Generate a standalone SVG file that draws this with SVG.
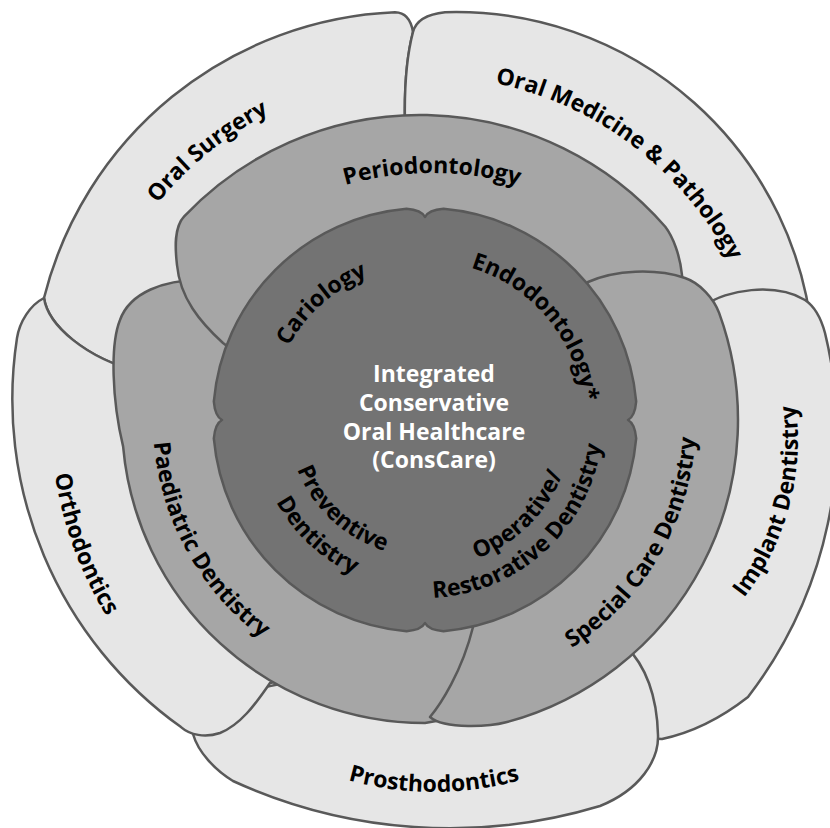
<svg xmlns="http://www.w3.org/2000/svg" width="830" height="828" viewBox="0 0 830 828">
<style>
.outer{fill:#e6e6e6;stroke:#595959;stroke-width:2.5;stroke-linejoin:round}
.mid{fill:#a6a6a6;stroke:#595959;stroke-width:2.5;stroke-linejoin:round}
.inner{fill:#737373;stroke:#595959;stroke-width:2.5;stroke-linejoin:round}
.lbl{font-family:"Open Sans","Liberation Sans",sans-serif;font-weight:700;font-size:23px;fill:#000;text-anchor:middle}
.ctr{font-family:"Open Sans","Liberation Sans",sans-serif;font-weight:700;font-size:23px;fill:#fff;text-anchor:middle}
</style>
<defs>
<path id="p-os" d="M 81.05 414 A 344 344 0 0 1 490.6 82.3"/>
<path id="p-om" d="M 348.2 84.7 A 344 344 0 0 1 768.6 402.6"/>
<path id="p-im" d="M 649 673.8 A 258 258 0 0 0 751.3 292"/>
<path id="p-pr" d="M 228.3 717.1 A 320 320 0 0 0 639.7 717.1"/>
<path id="p-or" d="M 101.1 233 A 374 374 0 0 0 297.1 771.4"/>
<path id="p-pa" d="M 191.8 279.9 A 272 272 0 0 0 420.25 692"/>
<path id="p-sc" d="M 422.6 691 A 271 271 0 0 0 660.9 286.6"/>
<path id="p-pe" d="M 189.2 286.2 A 317 317 0 0 1 674.8 286.2"/>
<path id="p-ca" d="M 270.07 424.6 A 155 155 0 0 1 447.4 266.6"/>
<path id="p-en" d="M 397.4 263.4 A 159 159 0 0 1 574.4 474.4"/>
<path id="p-pv1" d="M 291.5 389.2 A 137 137 0 0 0 465.1 551"/>
<path id="p-pv2" d="M 259.4 381.8 A 170 170 0 0 0 474.7 582.6"/>
<path id="p-op1" d="M 385.5 562.6 A 148 148 0 0 0 568.3 382.9"/>
<path id="p-op2" d="M 370.9 589.6 A 178 178 0 0 0 598.9 382.1"/>
</defs>
<rect width="830" height="828" fill="#ffffff"/>

<g id="oral-surgery">
<path class="outer" d="M 44 298 A 378 378 0 0 1 395 12.3 C 405 12.5 411 20 413 32 C 407 55 404 85 405 125 L 300 250 L 140 372 C 85 358 48 325 44 298 Z"/>
<text class="lbl"><textPath href="#p-os" startOffset="50%">Oral Surgery</textPath></text>
</g>
<g id="oral-medicine">
<path class="outer" d="M 405 125 C 404 85 407 55 413 32 C 416 20 428 14 445 12.2 A 358 358 0 0 1 812.7 340 L 720 340 L 560 250 Z"/>
<text class="lbl"><textPath href="#p-om" startOffset="50%">Oral Medicine &amp; Pathology</textPath></text>
</g>
<g id="implant-dentistry">
<path class="outer" d="M 700 330 L 706 305 C 725 290 775 282 805 300 C 814 306 821 318 825 333 A 431 431 0 0 1 748 697 C 725 715 695 732 662 739 L 640 738 L 600 680 L 690 500 Z"/>
<text class="lbl"><textPath href="#p-im" startOffset="50%">Implant Dentistry</textPath></text>
</g>
<g id="prosthodontics">
<path class="outer" d="M 625 645 C 645 665 657 695 658 735 C 659 760 640 790 600 806 A 521 521 0 0 1 233 781 C 215 770 198 752 193 734 L 200 700 L 300 680 L 430 690 L 600 640 Z"/>
<text class="lbl"><textPath href="#p-pr" startOffset="50%">Prosthodontics</textPath></text>
</g>
<g id="orthodontics">
<path class="outer" d="M 44 298 C 30 305 19.5 322 17 338 A 403 403 0 0 0 181 727.1 C 190 735 205 738 220 733 C 240 725 255 705 270 683 L 285 680 L 160 420 L 140 372 C 85 358 48 325 44 298 Z"/>
<text class="lbl"><textPath href="#p-or" startOffset="50%">Orthodontics</textPath></text>
</g>

<g id="paediatric-dentistry">
<path class="mid" d="M 200 280 C 165 280 130 292 120 320 C 110 345 112 400 123.1 446.4 A 303 303 0 0 0 425 723 L 470 715 L 520 600 L 300 300 Z"/>
<text class="lbl"><textPath href="#p-pa" startOffset="50%">Paediatric Dentistry</textPath></text>
</g>
<g id="periodontology">
<path class="mid" d="M 240 356 L 223 343 C 200 322 180 298 177 265 C 175 248 173.9 227.2 184.2 216.3 A 325 325 0 0 1 665.3 226.8 C 673 237 680 255 682 275 L 685 300 L 600 330 Z"/>
<text class="lbl"><textPath href="#p-pe" startOffset="50%">Periodontology</textPath></text>
</g>
<g id="special-care-dentistry">
<path class="mid" d="M 560 320 L 588 282 C 615 270 655 268 685 278 C 700 283 714 298.8 719.1 312.9 A 313 313 0 0 1 506 722.3 C 491.5 726.2 445 730 430 717 C 440 705 462 672 473 627 L 470 560 Z"/>
<text class="lbl"><textPath href="#p-sc" startOffset="50%">Special Care Dentistry</textPath></text>
</g>

<g id="consCare">
<path class="inner" d="M 425 217 Q 428.66 210.03 443.48 208.81 A 212 212 0 0 1 636.19 401.52 Q 634.97 416.34 628 420 Q 634.97 423.66 636.19 438.48 A 212 212 0 0 1 443.48 631.19 Q 428.66 629.97 425 623 Q 421.34 629.97 406.52 631.19 A 212 212 0 0 1 213.81 438.48 Q 215.03 423.66 222 420 Q 215.03 416.34 213.81 401.52 A 212 212 0 0 1 406.52 208.81 Q 421.34 210.03 425 217 Z"/>
<text class="ctr" x="434" y="382">Integrated</text>
<text class="ctr" x="434" y="411">Conservative</text>
<text class="ctr" x="434" y="440">Oral Healthcare</text>
<text class="ctr" x="434" y="468">(ConsCare)</text>
</g>
<g id="cariology">
<text class="lbl"><textPath href="#p-ca" startOffset="50%">Cariology</textPath></text>
</g>
<g id="endodontology">
<text class="lbl"><textPath href="#p-en" startOffset="50%">Endodontology*</textPath></text>
</g>
<g id="preventive-dentistry">
<text class="lbl"><textPath href="#p-pv1" startOffset="50%">Preventive</textPath></text>
<text class="lbl"><textPath href="#p-pv2" startOffset="50%">Dentistry</textPath></text>
</g>
<g id="operative-restorative-dentistry">
<text class="lbl"><textPath href="#p-op1" startOffset="50%">Operative/</textPath></text>
<text class="lbl"><textPath href="#p-op2" startOffset="50%">Restorative Dentistry</textPath></text>
</g>
<g id="connectors"></g>
</svg>
